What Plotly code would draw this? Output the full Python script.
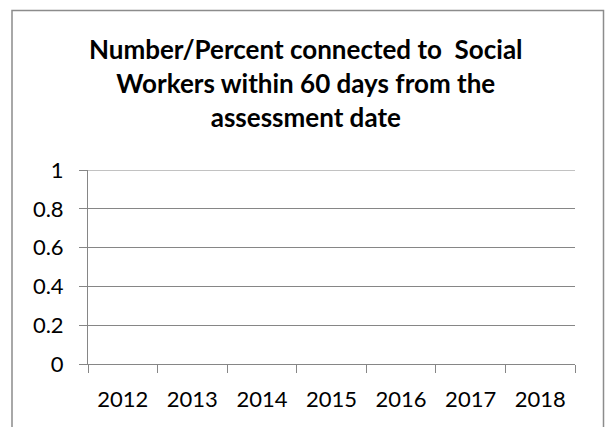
import plotly.graph_objects as go

categories = ["2012", "2013", "2014", "2015", "2016", "2017", "2018"]
values = [None, None, None, None, None, None, None]
y_ticks = [0, 0.2, 0.4, 0.6, 0.8, 1]
y_tick_text = ["0", "0.2", "0.4", "0.6", "0.8", "1"]
title_text = "Number/Percent connected to  Social<br>Workers within 60 days from the<br>assessment date"

FONT = "Lato, Liberation Sans, sans-serif"
GRID = "#868686"

fig = go.Figure()
fig.add_trace(go.Scatter(x=categories, y=values, mode="lines", showlegend=False))

L, R, T, B = 88, 575, 170, 364
W, H = 609, 427
pw, ph = R - L, B - T

def px_x(p):
    return (p - L) / pw

def px_y(p):
    return (B - p) / ph

fig.update_layout(
    width=W, height=H,
    margin=dict(l=L, r=W - R, t=T, b=H - B, pad=0),
    paper_bgcolor="white", plot_bgcolor="white",
    font=dict(family=FONT, size=22, color="black"),
    xaxis=dict(
        type="category", categoryorder="array", categoryarray=categories,
        range=[-0.5, len(categories) - 0.5],
        showline=True, linecolor=GRID, linewidth=1,
        ticks="outside", ticklen=8, tickwidth=1, tickcolor=GRID, tickson="boundaries",
        showgrid=False, zeroline=False, fixedrange=True,
        tickfont=dict(family=FONT, size=22, color="black"),
        ticklabelstandoff=16,
    ),
    yaxis=dict(
        range=[0, 1], tickvals=y_ticks, ticktext=y_tick_text,
        showline=True, linecolor=GRID, linewidth=1,
        ticks="outside", ticklen=8, tickwidth=1, tickcolor=GRID,
        showgrid=True, gridcolor=GRID, gridwidth=1, zeroline=False,
        tickfont=dict(family=FONT, size=22, color="black"),
        ticklabelstandoff=11, fixedrange=True,
    ),
    annotations=[dict(
        text="<b>" + title_text + "</b>", xref="paper", yref="paper",
        x=px_x(305.5), y=px_y(83), xanchor="center", yanchor="middle",
        showarrow=False, font=dict(family=FONT, size=26, color="black"),
        align="center",
    )],
    shapes=[
        dict(
            type="rect", xref="paper", yref="paper",
            x0=px_x(12), x1=px_x(603.5), y0=px_y(440), y1=px_y(10.5),
            line=dict(color="#8c8c8c", width=1.5), fillcolor="rgba(0,0,0,0)",
            layer="below",
        ),
        dict(
            type="line", xref="paper", yref="y", x0=0, x1=1, y0=1, y1=1,
            line=dict(color=GRID, width=1), layer="below",
        ),
    ],
)

fig.write_html("out.html", config={"displayModeBar": False},
               post_script="document.body.style.margin='0';")
